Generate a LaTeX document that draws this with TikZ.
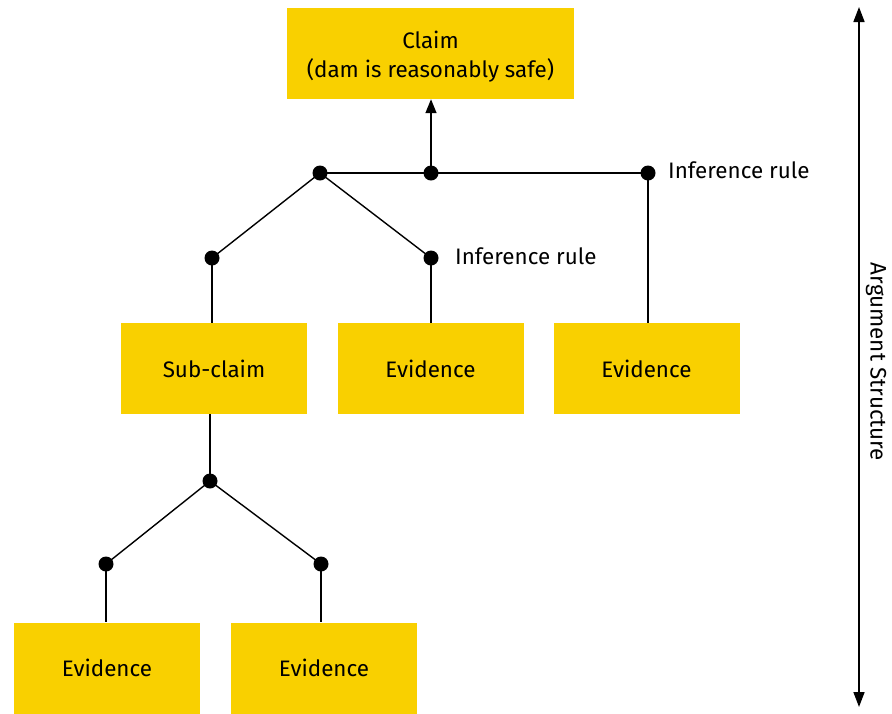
\documentclass[tikz,border=0pt]{standalone}
\usepackage{fontspec}
\setmainfont{Fira Sans}
\usetikzlibrary{arrows.meta}
\definecolor{boxyellow}{HTML}{F9D000}
\begin{document}
\begin{tikzpicture}[x=1pt,y=-1pt,
  box/.style={fill=boxyellow,minimum width=186pt,minimum height=91pt,inner sep=0pt,align=center,font=\fontsize{22.4}{29}\selectfont},
  link/.style={line width=1.4pt},
  dot/.style={circle,fill=black,inner sep=0pt,minimum size=15pt},
  lbl/.style={font=\fontsize{22.4}{27}\selectfont,anchor=west,inner sep=0pt},
  tip/.style={-{Triangle[length=14pt,width=11pt]}}]
\useasboundingbox (0,0) rectangle (892,713);
% boxes
\node[box,minimum width=287pt,text height=51pt,text depth=3pt] (claim) at (430.5,53.5) {Claim\\(dam is reasonably safe)};
\node[box] (sub) at (214,368.5) {Sub-claim};
\node[box] (ev1) at (430.5,368.5) {Evidence};
\node[box] (ev2) at (646.5,368.5) {Evidence};
\node[box] (ev3) at (107,668) {Evidence};
\node[box] (ev4) at (324,668) {Evidence};
% junction points
\node[dot] (j0) at (320,173) {};
\node[dot] (j1) at (431,173) {};
\node[dot] (j2) at (648,173) {};
\node[dot] (j3) at (212,258) {};
\node[dot] (j4) at (431,258) {};
\node[dot] (j5) at (210,481) {};
\node[dot] (j6) at (106,564) {};
\node[dot] (j7) at (321,564) {};
% labels
\node[lbl] (r1) at (668,170) {Inference rule};
\node[lbl] (r2) at (455,256) {Inference rule};
% connectors
\draw[link] (j0.center) -- (j2.center);
\draw[link,tip] (j1.center) -- (j1.center |- claim.south);
\draw[link] (j3.center) -- (j0.center) -- (j4.center);
\draw[link] (j3.center) -- (j3.center |- sub.north);
\draw[link] (j4.center) -- (j4.center |- ev1.north);
\draw[link] (j2.center) -- (j2.center |- ev2.north);
\draw[link] (j5.center |- sub.south) -- (j5.center);
\draw[link] (j6.center) -- (j5.center) -- (j7.center);
\draw[link] (j6.center) -- (j6.center |- ev3.north);
\draw[link] (j7.center) -- (j7.center |- ev4.north);
% side axis
\coordinate (atop) at (859,7);
\coordinate (abot) at (859,707);
\draw[line width=1.6pt,{Triangle[length=15pt,width=11pt]}-{Triangle[length=15pt,width=11pt]}] (atop) -- (abot);
\node[font=\fontsize{22.4}{27}\selectfont,rotate=-90] (axis) at (876,362) {Argument Structure};
\end{tikzpicture}
\end{document}
